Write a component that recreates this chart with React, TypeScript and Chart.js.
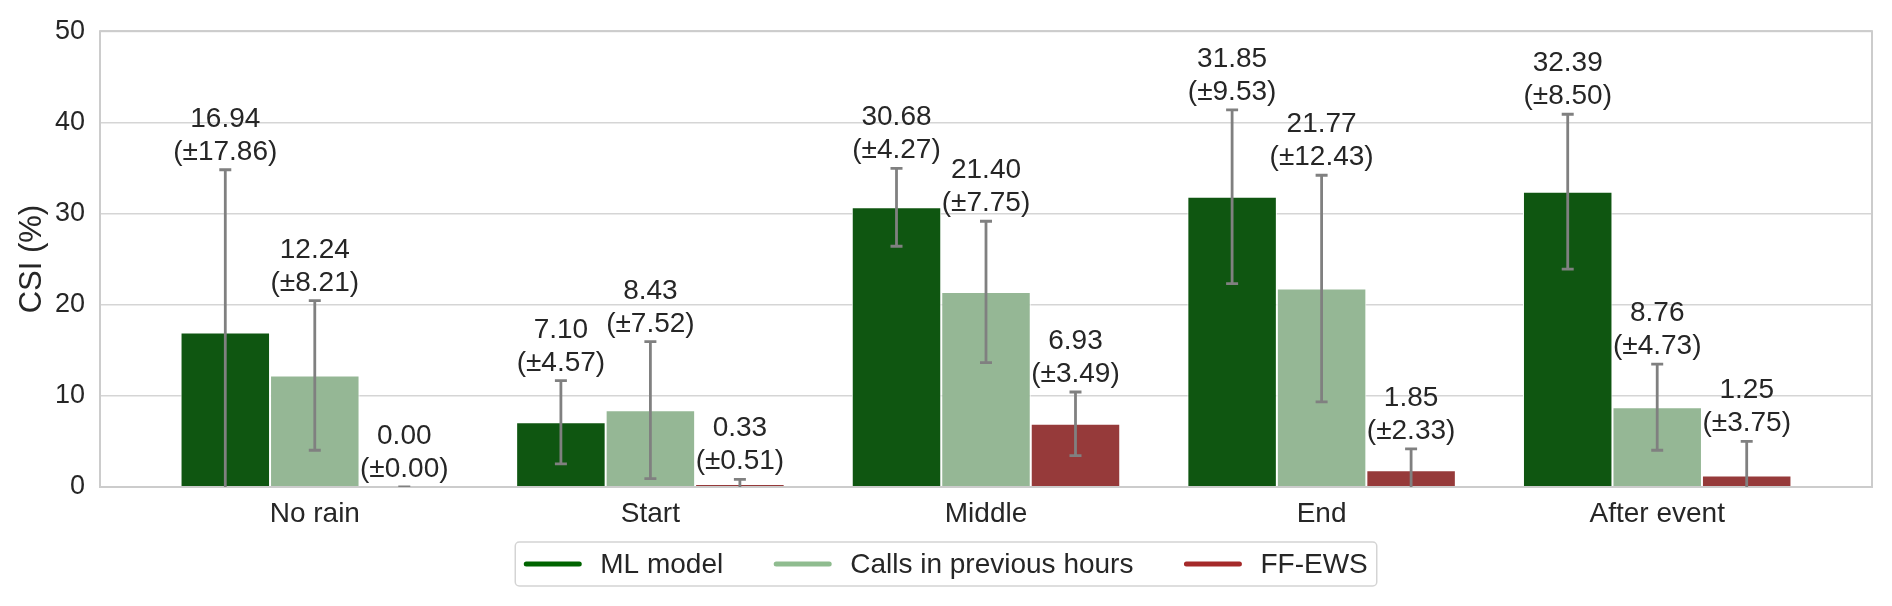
import React, { useEffect, useRef } from "react";
import { Chart, registerables } from "chart.js";

Chart.register(...registerables);

const categories = ["No rain", "Start", "Middle", "End", "After event"];
const seriesNames = ["ML model", "Calls in previous hours", "FF-EWS"];
const mlMeans = [16.94, 7.1, 30.68, 31.85, 32.39];
const mlStd = [17.86, 4.57, 4.27, 9.53, 8.5];
const callsMeans = [12.24, 8.43, 21.4, 21.77, 8.76];
const callsStd = [8.21, 7.52, 7.75, 12.43, 4.73];
const ffMeans = [0.0, 0.33, 6.93, 1.85, 1.25];
const ffStd = [0.0, 0.51, 3.49, 2.33, 3.75];

const means = [mlMeans, callsMeans, ffMeans];
const stds = [mlStd, callsStd, ffStd];

const barColors = ["#0f5611", "#95b795", "#963a3a"];
const legendColors = ["#006400", "#8fbc8f", "#a52a2a"];

const FONT = "'Liberation Sans', Arial, sans-serif";
const TEXT = "#262626";
const Y_TITLE = "CSI (%)";

// error bars, value labels, frame, axis title and the boxed legend
const overlayPlugin = {
  id: "overlay",
  afterDatasetsDraw(chart: any) {
    const { ctx, chartArea: a } = chart;
    const y = chart.scales.y;

    ctx.save();
    ctx.strokeStyle = "#cccccc";
    ctx.lineWidth = 2;
    ctx.strokeRect(a.left, a.top, a.right - a.left, a.bottom - a.top);
    ctx.restore();

    // error bars (clipped to the plot)
    ctx.save();
    ctx.beginPath();
    ctx.rect(a.left, a.top, a.right - a.left, a.bottom - a.top);
    ctx.clip();
    ctx.strokeStyle = "#808080";
    ctx.lineWidth = 2.8;
    means.forEach((series, i) => {
      const meta = chart.getDatasetMeta(i);
      series.forEach((m, j) => {
        const x = meta.data[j].x;
        const lo = y.getPixelForValue(m - stds[i][j]);
        const hi = y.getPixelForValue(m + stds[i][j]);
        ctx.beginPath();
        ctx.moveTo(x, lo);
        ctx.lineTo(x, hi);
        ctx.moveTo(x - 6, lo);
        ctx.lineTo(x + 6, lo);
        ctx.moveTo(x - 6, hi);
        ctx.lineTo(x + 6, hi);
        ctx.stroke();
      });
    });
    ctx.restore();

    // value labels above the error bars
    ctx.save();
    ctx.fillStyle = TEXT;
    ctx.font = `28px ${FONT}`;
    ctx.textAlign = "center";
    ctx.textBaseline = "alphabetic";
    means.forEach((series, i) => {
      const meta = chart.getDatasetMeta(i);
      series.forEach((m, j) => {
        const x = meta.data[j].x;
        const top = y.getPixelForValue(m + stds[i][j]);
        const base = top - 10;
        ctx.fillText(`(±${stds[i][j].toFixed(2)})`, x, base);
        ctx.fillText(m.toFixed(2), x, base - 33);
      });
    });
    ctx.restore();
  },
  afterDraw(chart: any) {
    const { ctx, chartArea: a } = chart;

    // y axis title
    ctx.save();
    ctx.translate(32, (a.top + a.bottom) / 2);
    ctx.rotate(-Math.PI / 2);
    ctx.fillStyle = TEXT;
    ctx.font = `31px ${FONT}`;
    ctx.textAlign = "center";
    ctx.textBaseline = "middle";
    ctx.fillText(Y_TITLE, 0, 0);
    ctx.restore();

    // legend
    ctx.save();
    ctx.font = `28px ${FONT}`;
    const pad = 9;
    const lineLen = 57;
    const gap = 19;
    const itemGap = 51;
    const widths = seriesNames.map((s) => ctx.measureText(s).width);
    const total =
      pad * 2 + widths.reduce((s, w) => s + lineLen + gap + w, 0) + itemGap * (seriesNames.length - 1);
    const left = chart.width / 2 - total / 2;
    const top = 542;
    const h = 44;
    const cy = top + h / 2;

    ctx.beginPath();
    ctx.roundRect(left, top, total, h, 4);
    ctx.fillStyle = "#ffffff";
    ctx.fill();
    ctx.strokeStyle = "#d4d4d4";
    ctx.lineWidth = 1.5;
    ctx.stroke();

    let x = left + pad;
    seriesNames.forEach((name, i) => {
      ctx.beginPath();
      ctx.strokeStyle = legendColors[i];
      ctx.lineWidth = 5;
      ctx.lineCap = "round";
      ctx.moveTo(x + 2, cy);
      ctx.lineTo(x + lineLen - 2, cy);
      ctx.stroke();
      x += lineLen + gap;
      ctx.fillStyle = TEXT;
      ctx.textAlign = "left";
      ctx.textBaseline = "middle";
      ctx.fillText(name, x, cy + 1);
      x += widths[i] + itemGap;
    });
    ctx.restore();
  },
};

export default function App() {
  const canvasRef = useRef<HTMLCanvasElement | null>(null);

  useEffect(() => {
    document.body.style.margin = "0";
    if (!canvasRef.current) return;

    const chart = new Chart(canvasRef.current, {
      type: "bar",
      data: {
        datasets: seriesNames.map((name, i) => ({
          label: name,
          data: means[i].map((v, j) => ({ x: j, y: v })),
          backgroundColor: barColors[i],
          borderColor: "#ffffff",
          borderWidth: 1,
          categoryPercentage: 0.8,
          barPercentage: 1,
        })),
      },
      options: {
        responsive: true,
        maintainAspectRatio: false,
        animation: false,
        layout: { padding: { left: 0, top: 29, right: 20, bottom: 69 } },
        plugins: {
          legend: { display: false },
          tooltip: { enabled: false },
        },
        scales: {
          x: {
            type: "linear",
            min: -0.64,
            max: 4.64,
            offset: false,
            grid: { display: false },
            border: { display: false },
            afterBuildTicks: (axis: any) => {
              axis.ticks = categories.map((_, i) => ({ value: i }));
            },
            afterFit: (axis: any) => {
              axis.height = 50;
            },
            ticks: {
              autoSkip: false,
              maxRotation: 0,
              padding: 2,
              color: TEXT,
              font: { family: FONT, size: 28 },
              callback: (v: any) => categories[Number(v)] ?? "",
            },
          },
          y: {
            min: 0,
            max: 50,
            grid: { color: "#d5d5d5", lineWidth: 1.6, drawTicks: false },
            border: { display: false },
            afterFit: (axis: any) => {
              axis.width = 100;
            },
            ticks: {
              stepSize: 10,
              padding: 15,
              color: TEXT,
              font: { family: FONT, size: 27 },
            },
          },
        },
      },
      plugins: [overlayPlugin],
    });

    return () => chart.destroy();
  }, []);

  return (
    <div style={{ width: 1892, height: 606, position: "relative", background: "#ffffff" }}>
      <canvas ref={canvasRef} />
    </div>
  );
}
